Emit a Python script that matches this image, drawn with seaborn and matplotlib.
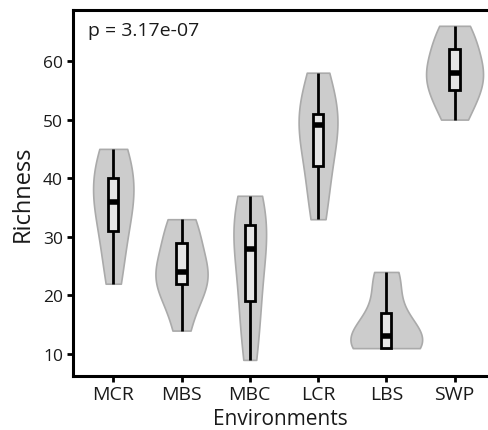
import numpy as np
import pandas as pd
import matplotlib
matplotlib.use("Agg")
import matplotlib.pyplot as plt
import seaborn as sns

categories = ["MCR", "MBS", "MBC", "LCR", "LBS", "SWP"]
mcr = [22, 27, 31, 35, 36, 39, 40, 44, 45]
mbs = [14, 19, 22, 23, 24, 24, 29, 31, 33]
mbc = [9, 15, 19, 24, 28, 31, 32, 35, 37]
lcr = [33, 38, 42, 46, 49, 50, 51, 55, 58]
lbs = [11, 11, 11, 12, 13, 15, 17, 22, 24]
swp = [50, 53, 55, 57, 58, 59, 62, 64, 66]
p_text = "p = 3.17e-07"

series = [mcr, mbs, mbc, lcr, lbs, swp]
df = pd.DataFrame({
    "Environments": np.repeat(categories, [len(s) for s in series]),
    "Richness": np.concatenate(series),
})

sns.set_style("white")
plt.rcParams["font.family"] = ["Open Sans", "DejaVu Sans"]

fig = plt.figure(figsize=(4.88, 4.31), dpi=100)
ax = fig.add_axes([0.149, 0.126, 0.851, 0.8485])

sns.violinplot(data=df, x="Environments", y="Richness", order=categories,
               inner=None, cut=0, width=1.05, color="#cccccc", linecolor="#aaaaaa",
               linewidth=1.2, bw_method="silverman", bw_adjust=1.0, density_norm="area",
               saturation=1, ax=ax)
sns.boxplot(data=df, x="Environments", y="Richness", order=categories,
            width=0.15, whis=(0, 100), showfliers=False, showcaps=False,
            color="#e6e6e6", linecolor="black", linewidth=2.0, saturation=1,
            medianprops=dict(linewidth=4, color="black"), ax=ax)

ax.set_ylim(6.3, 68.7)
ax.set_xlim(-0.594, 5.49)
ax.set_yticks([10, 20, 30, 40, 50, 60])
ax.tick_params(axis="x", bottom=True, labelsize=14, length=4, width=2, colors="black", pad=3)
ax.tick_params(axis="y", left=True, labelsize=12.5, length=4, width=2, colors="black", pad=3)
for lab in ax.get_xticklabels() + ax.get_yticklabels():
    lab.set_color("#1a1a1a")
ax.set_xlabel("Environments", fontsize=15, color="#1a1a1a", labelpad=3)
ax.set_ylabel("Richness", fontsize=17, color="#1a1a1a", labelpad=6)
for s in ["left", "bottom", "top"]:
    ax.spines[s].set_visible(True)
    ax.spines[s].set_color("black")
    ax.spines[s].set_linewidth(2.2)
ax.spines["right"].set_visible(False)
ax.text(0.037, 0.97, p_text, transform=ax.transAxes, ha="left", va="top",
        fontsize=14, color="#1a1a1a")

fig.savefig("out.png", dpi=100)
